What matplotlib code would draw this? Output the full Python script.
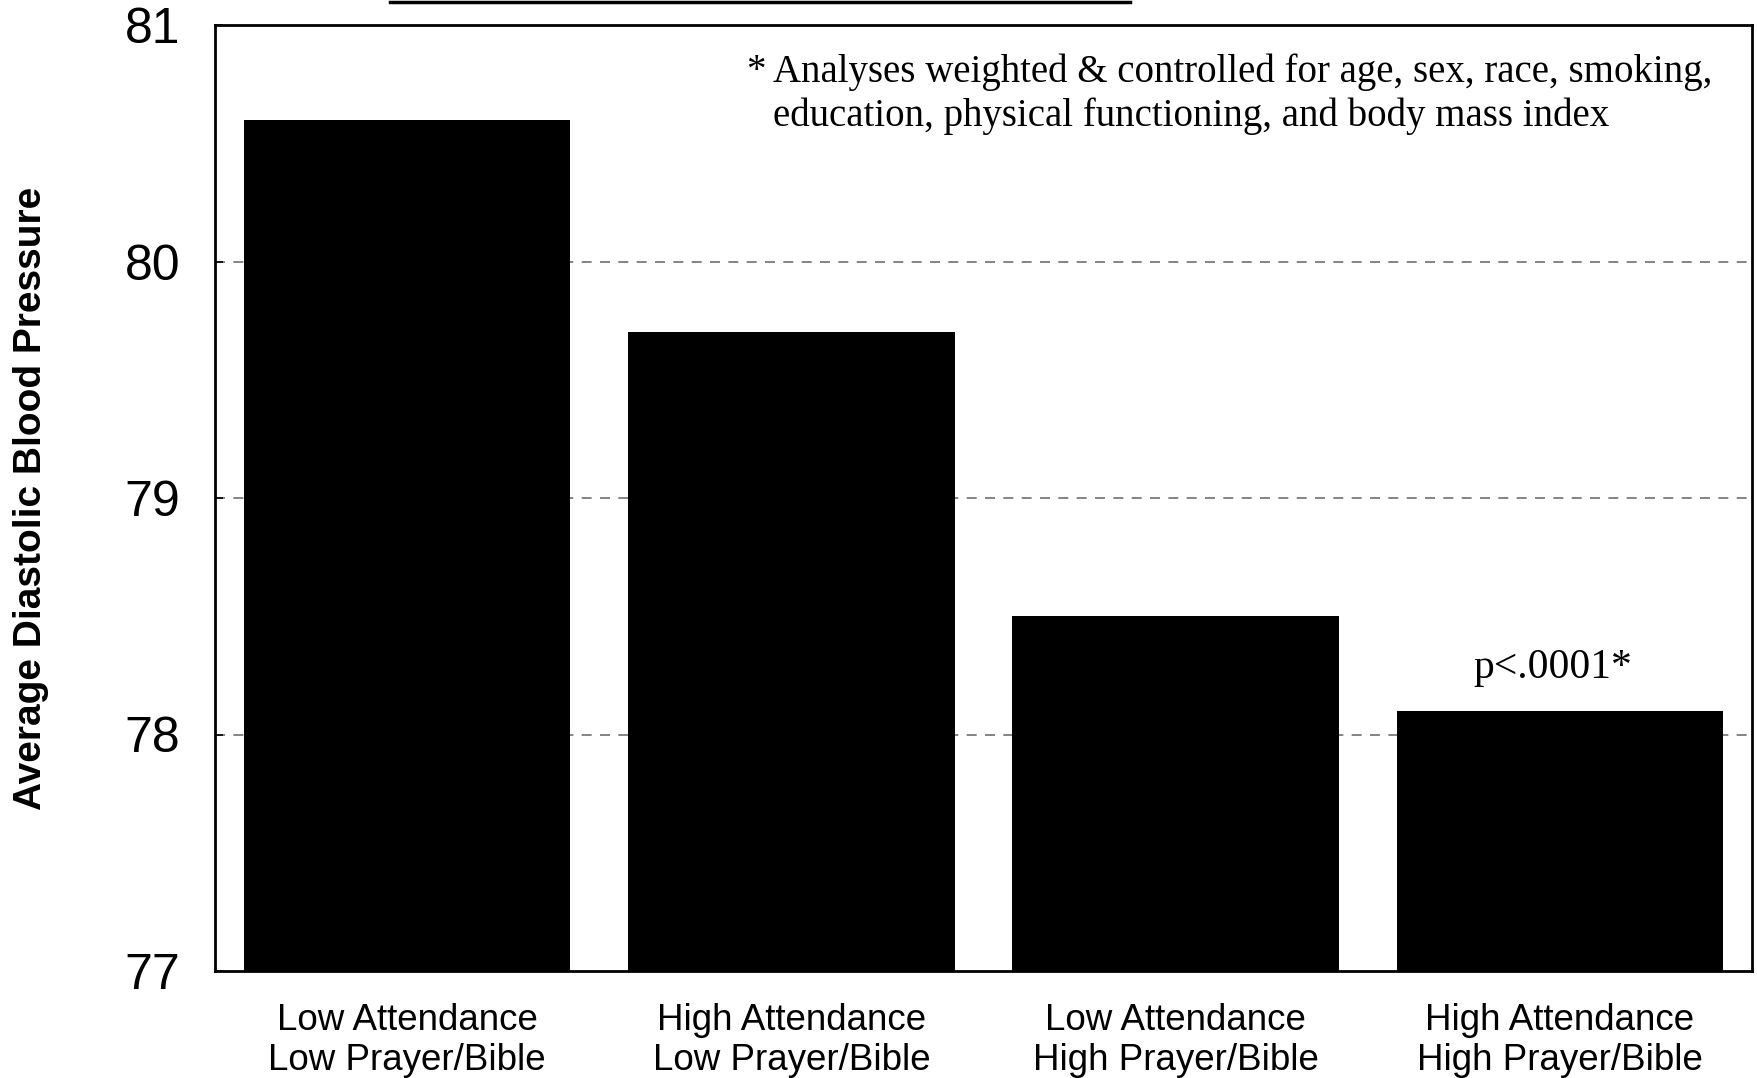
import matplotlib.pyplot as plt
from matplotlib.lines import Line2D

groups = ['Low Attendance\nLow Prayer/Bible',
          'High Attendance\nLow Prayer/Bible',
          'Low Attendance\nHigh Prayer/Bible',
          'High Attendance\nHigh Prayer/Bible']
dbp = [80.6, 79.7, 78.5, 78.1]
yticks = [77, 78, 79, 80, 81]

note = ('Analyses weighted & controlled for age, sex, race, smoking,\n'
        'education, physical functioning, and body mass index')
pval = 'p<.0001*'

fig = plt.figure(figsize=(17.57, 10.78), dpi=100)
ax = fig.add_axes([215 / 1757, 1 - 971 / 1078, (1752 - 215) / 1757, (971 - 25) / 1078])

x = range(len(groups))
ax.bar(x, dbp, width=0.85, bottom=0, color='black', zorder=3)
ax.set_xlim(-0.5, 3.5)
ax.set_ylim(77, 81)

for v in [78, 79, 80]:
    ax.axhline(v, color='#707070', lw=1.2, ls=(0, (6, 5)), zorder=1)

ax.set_yticks(yticks)
ax.set_yticklabels([str(t) for t in yticks], fontsize=36, family='Liberation Sans')
ax.tick_params(axis='y', direction='in', length=6, width=1.2, pad=25)
ax.set_xticks(list(x))
ax.set_xticklabels(groups, fontsize=26.5, family='Liberation Sans', linespacing=1.18)
ax.tick_params(axis='x', length=0, pad=23)
for s in ax.spines.values():
    s.set_linewidth(2)

ax.set_ylabel('Average Diastolic Blood Pressure', fontsize=28, fontweight='bold',
              family='Liberation Sans')
ax.yaxis.set_label_coords(-(215 - 49) / 1537, 0.5)

ax.text(0.3455, 0.970, '*', transform=ax.transAxes, fontsize=28,
        family='Liberation Serif', ha='left', va='top')
ax.text(0.363, 0.970, note, transform=ax.transAxes, fontsize=28,
        family='Liberation Serif', ha='left', va='top', linespacing=1.22)

ax.annotate(pval, (3, dbp[3]), xytext=(-5, 17), textcoords='offset points',
            fontsize=30, family='Liberation Serif', ha='center', va='bottom')

# underline of the title that sits above the visible area
fig.add_artist(Line2D([390 / 1757, 1130 / 1757], [0.998, 0.998], color='black', lw=2.5))

fig.savefig('out.png', dpi=100)
